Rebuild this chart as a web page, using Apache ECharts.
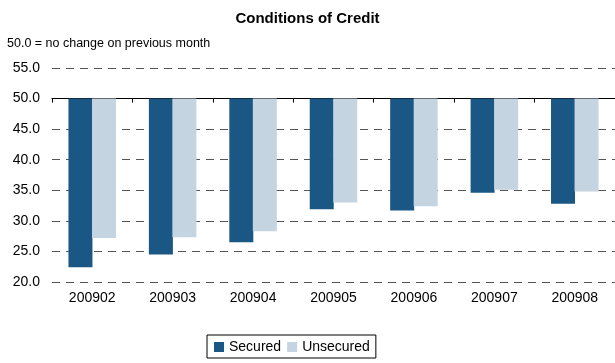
<!DOCTYPE html>
<html><head><meta charset="utf-8">
<script src="https://cdn.jsdelivr.net/npm/echarts@6/dist/echarts.min.js"></script>
<style>html,body{margin:0;padding:0;background:#fff}#c{width:615px;height:363px}</style>
</head><body><div id="c"></div>
<script>
const categories = ['200902','200903','200904','200905','200906','200907','200908'];
const secured = [22.4, 24.5, 26.5, 31.9, 31.7, 34.6, 32.8];
const unsecured = [27.2, 27.3, 28.3, 33.0, 32.4, 35.1, 34.8];
const baseline = 50;
const yMin = 20, yMax = 55, yStep = 5;

const chart = echarts.init(document.getElementById('c'), null, {renderer: 'canvas'});
const font = 'Liberation Sans, Arial, sans-serif';
chart.setOption({
  animation: false,
  backgroundColor: '#fff',
  title: [
    {text: 'Conditions of Credit', left: 'center', top: 6,
     textStyle: {fontFamily: font, fontSize: 15, fontWeight: 'bold', color: '#000'}},
    {text: '50.0 = no change on previous month', left: 2, top: 32,
     textStyle: {fontFamily: font, fontSize: 12.5, fontWeight: 'normal', color: '#000'}}
  ],
  legend: {
    left: 207, top: 335, orient: 'horizontal',
    borderColor: '#000', borderWidth: 1, padding: [5, 6, 4, 7],
    itemWidth: 10, itemHeight: 10, itemGap: 6,
    textStyle: {fontFamily: font, fontSize: 14, color: '#000'},
    data: [{name: 'Secured', icon: 'rect'}, {name: 'Unsecured', icon: 'rect'}]
  },
  grid: {left: 52, right: -4, top: 68, bottom: 81, containLabel: false},
  xAxis: [
    {type: 'category', data: categories, position: 'bottom',
     axisLine: {show: false, onZero: false}, axisTick: {show: false},
     axisLabel: {fontFamily: font, fontSize: 14, color: '#000', margin: 9}},
    {type: 'category', data: categories, position: 'bottom',
     axisLine: {show: true, onZero: true, lineStyle: {color: '#000', width: 1}},
     axisTick: {show: true, length: 4, lineStyle: {color: '#000'}},
     axisLabel: {show: false}}
  ],
  yAxis: {
    type: 'value', min: yMin - baseline, max: yMax - baseline, interval: yStep,
    axisLine: {show: false}, axisTick: {show: false},
    axisLabel: {fontFamily: font, fontSize: 14, color: '#000', margin: 12,
      formatter: v => (v + baseline).toFixed(1)},
    splitLine: {show: true, lineStyle: {color: '#555', width: 1, type: [8, 6]}}
  },
  series: [
    {name: 'Secured', type: 'bar', xAxisIndex: 0,
     data: secured.map(v => v - baseline),
     itemStyle: {color: '#1a5784'}, barWidth: 24, barGap: '-2%'},
    {name: 'Unsecured', type: 'bar', xAxisIndex: 0,
     data: unsecured.map(v => v - baseline),
     itemStyle: {color: '#c4d4e0'}, barWidth: 24}
  ]
});
</script></body></html>
